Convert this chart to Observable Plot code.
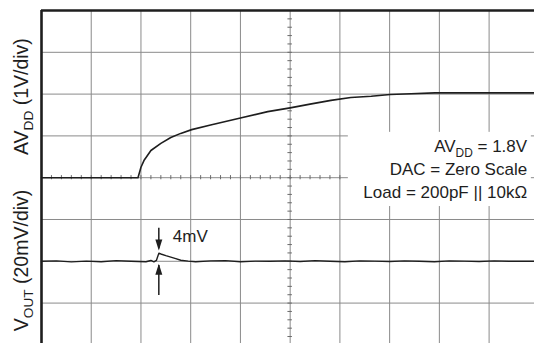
<!DOCTYPE html>
<html><head><meta charset="utf-8">
<script src="https://cdn.jsdelivr.net/npm/d3@7"></script>
<script src="https://cdn.jsdelivr.net/npm/@observablehq/plot@0.6"></script>
<style>body{margin:0;background:#fff;} svg{display:block}</style>
</head><body><div id="chart"></div>
<script>
// Time axis in screen divisions (10 divisions across the screen)
const avddTime = [0, 1.94, 2.0, 2.06, 2.2, 2.4, 2.6, 2.8, 3.02, 3.4, 4.0, 4.55, 5.0, 5.4, 5.82, 6.22, 6.63, 7.01, 7.43, 7.91, 8.5, 9.2, 9.92];
// AVDD trace: divisions above the centre line (1V/div)
const avddDiv = [0, 0, 0.25, 0.41, 0.65, 0.82, 0.96, 1.06, 1.15, 1.26, 1.43, 1.58, 1.67, 1.76, 1.85, 1.92, 1.95, 1.99, 2.01, 2.03, 2.03, 2.03, 2.03];
// VOUT trace: deviation in mV (20mV/div), trace sits two divisions below centre
const voutTime = [0, 0.3, 0.6, 0.9, 1.2, 1.5, 1.8, 2.1, 2.2, 2.26, 2.31, 2.36, 2.4, 2.5, 2.7, 2.8, 2.95, 3.1, 3.4, 3.7, 4.0, 4.3, 4.6, 4.9, 5.2, 5.5, 5.8, 6.1, 6.4, 6.7, 7.0, 7.3, 7.6, 7.9, 8.2, 8.5, 8.8, 9.1, 9.4, 9.7, 9.92];
const voutMilliV = [0, 0.2, -0.3, 0.1, -0.2, 0.3, 0, -0.2, 0.4, -0.3, 0.4, 3.9, 3.5, 2.7, 1.3, 0.5, 0.1, -0.2, 0.2, 0.3, -0.2, 0.1, 0, 0.2, -0.1, 0.3, 0, -0.2, 0.2, 0.1, -0.1, 0.2, 0, -0.2, 0.2, 0.1, -0.1, 0.2, 0, 0.1, 0];
const yAxisLabels = ["AV_{DD} (1V/div)", "V_{OUT} (20mV/div)"];
const legendLines = ["AV_{DD} = 1.8V", "DAC = Zero Scale", "Load = 200pF || 10kΩ"];
const glitchLabel = ["4mV"];

const X_MAX = 9.913, Y_MIN = -3.967;
const ink = "#1e1e1e", gridColor = "#8a8a8a";
const avdd = avddTime.map((t, i) => ({t, y: avddDiv[i]}));
const vout = voutTime.map((t, i) => ({t, y: -2 + voutMilliV[i] / 20}));

const arrowHead = {draw(ctx) { ctx.moveTo(0, 0); ctx.lineTo(3.5, 11); ctx.lineTo(-3.5, 11); ctx.closePath(); }};

const chart = Plot.plot({
  width: 534, height: 343,
  marginLeft: 41, marginRight: 0, marginTop: 10, marginBottom: 0,
  x: {domain: [0, X_MAX], axis: null},
  y: {domain: [Y_MIN, 4], axis: null},
  style: {fontFamily: "'Liberation Sans', Arial, sans-serif", background: "#fff", overflow: "visible", color: ink},
  marks: [
    Plot.ruleX(d3.range(1, 10), {stroke: gridColor}),
    Plot.ruleY(d3.range(-3, 4), {stroke: gridColor}),
    Plot.ruleX(d3.range(0.2, X_MAX, 0.2), {x: d => d, y1: () => -0.05, y2: () => 0.05, stroke: "#6a6a6a"}),
    Plot.ruleY(d3.range(-3.8, 4, 0.2), {y: d => d, x1: () => 4.955, x2: () => 5.045, stroke: "#6a6a6a"}),
    Plot.rect([{}], {x1: () => 6.17, x2: () => 9.85, y1: () => -0.69, y2: () => 1.085, fill: "white"}),
    Plot.ruleX([0], {stroke: ink, strokeWidth: 2.6}),
    Plot.ruleY([4], {stroke: ink, strokeWidth: 2.6}),
    Plot.line(avdd, {x: "t", y: "y", stroke: ink, strokeWidth: 1.6}),
    Plot.line(vout, {x: "t", y: "y", stroke: ink, strokeWidth: 1.4}),
    Plot.ruleX([2.359], {y1: () => -1.21, y2: () => -1.70, stroke: ink, strokeWidth: 1.5}),
    Plot.ruleX([2.359], {y1: () => -2.82, y2: () => -2.10, stroke: ink, strokeWidth: 1.5}),
    Plot.dot([{}], {x: () => 2.359, y: () => -1.742, symbol: arrowHead, rotate: 180, r: 5, fill: ink, stroke: null}),
    Plot.dot([{}], {x: () => 2.359, y: () => -2.06, symbol: arrowHead, r: 5, fill: ink, stroke: null}),
    Plot.text(glitchLabel, {x: () => 2.64, y: () => -1.541, text: d => d, textAnchor: "start", lineAnchor: "bottom", fontSize: 17, fill: ink}),
    Plot.text(legendLines, {x: () => 9.765, y: (d, i) => [0.612, 0.072, -0.478][i], text: d => d, textAnchor: "end", lineAnchor: "bottom", fontSize: 17, fill: ink}),
    Plot.text(yAxisLabels, {x: () => -0.28, y: (d, i) => [1.94, -1.98][i], text: d => d, rotate: -90, textAnchor: "middle", lineAnchor: "bottom", fontSize: 19.5, fill: ink})
  ]
});

// subscripts: "_{..}" -> smaller, lowered tspan
d3.select(chart).selectAll("text").each(function() {
  const s = this.textContent;
  if (!s.includes("_{")) return;
  this.textContent = "";
  const parts = s.split(/_\{([^}]*)\}/);
  let lowered = false;
  parts.forEach((p, k) => {
    if (!p) return;
    const ts = d3.select(this).append("tspan").text(p);
    if (k % 2 === 1) { ts.attr("font-size", "70%").attr("dy", "0.4em"); lowered = true; }
    else if (lowered) { ts.attr("dy", "-0.28em"); lowered = false; }
  });
});

document.getElementById("chart").appendChild(chart);
</script></body></html>
